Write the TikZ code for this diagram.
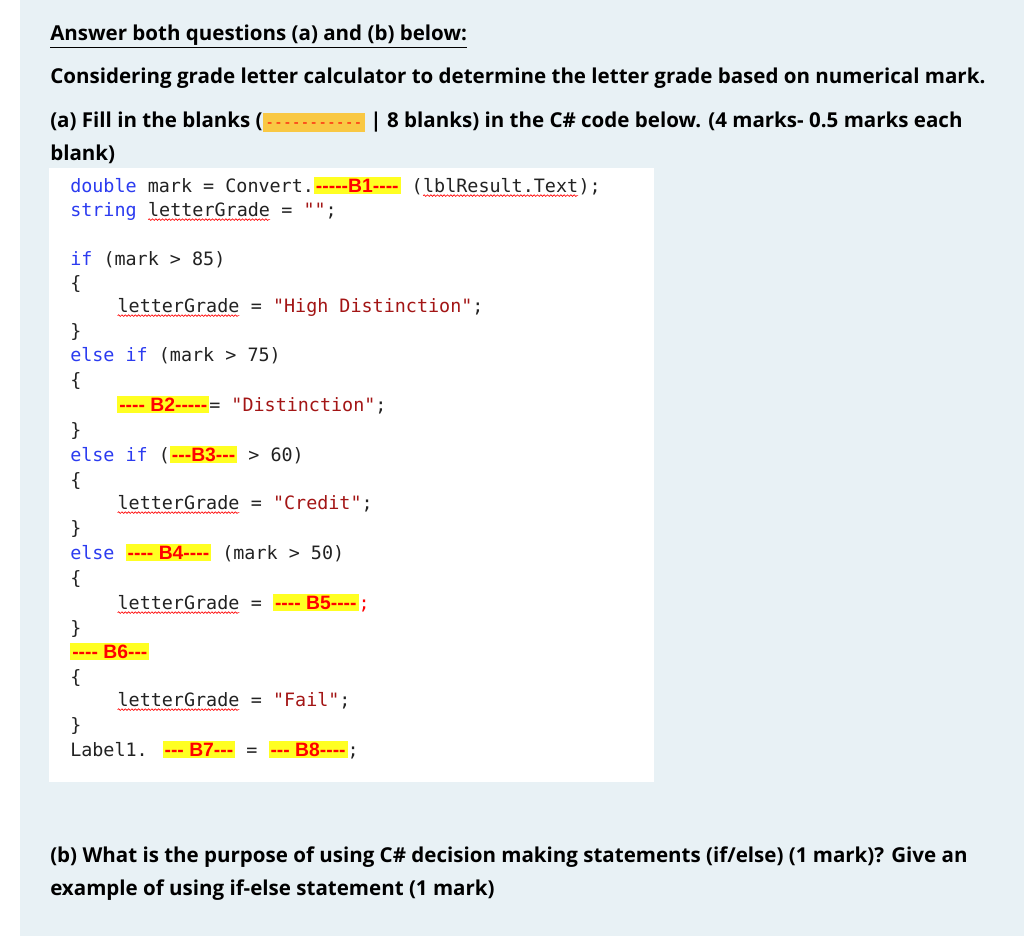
\documentclass[tikz,border=0pt]{standalone}
\usepackage{fontspec}
\setmainfont{Open Sans}
\newfontfamily\codef{DejaVu Sans Mono}
\newfontfamily\arialf{Liberation Sans}
\usetikzlibrary{decorations.pathmorphing}
\definecolor{bg}{HTML}{E8F1F5}
\definecolor{kw}{HTML}{2B3BF0}
\definecolor{str}{HTML}{A31515}
\definecolor{txt}{HTML}{222222}
\definecolor{hl}{HTML}{FFFF22}
\definecolor{org}{HTML}{F9C843}
\newcommand{\bl}[1]{{\setlength{\fboxsep}{1.5pt}\colorbox{hl}{\arialf\bfseries\fontsize{14.5}{16}\selectfont\color{red}#1}}}
\newcommand{\kw}[1]{{\color{kw}#1}}
\newcommand{\st}[1]{{\color{str}#1}}
\newcommand{\sq}[1]{\tikz[baseline=(t.base)]{\node[inner sep=0pt,outer sep=0pt](t){#1};\draw[red,line width=0.5pt,decorate,decoration={snake,amplitude=0.6pt,segment length=2.5pt}]([yshift=-2.5pt]t.south west)--([yshift=-2.5pt]t.south east);}}
\begin{document}
\begin{tikzpicture}[x=0.75pt,y=-0.75pt,
  head/.style={anchor=base west,inner sep=0pt,font=\fontsize{15.4}{18}\selectfont\bfseries,text=black},
  code/.style={anchor=base west,inner sep=0pt,font=\codef\fontsize{13.8}{16}\selectfont,text=txt}]
\useasboundingbox (0,0) rectangle (1024,936);
\fill[white] (0,0) rectangle (1024,936);
\fill[bg] (20,0) rectangle (1024,936);
\fill[white] (49,168) rectangle (654,782);
\node[head] (h1) at (50,40) {\underline{Answer both questions (a) and (b) below:}};
\node[head] (h2) at (50,83) {Considering grade letter calculator to determine the letter grade based on numerical mark.};
\node[head] (h3) at (50,127) {(a) Fill in the blanks ({\setlength{\fboxsep}{2pt}\colorbox{org}{\codef\mdseries\fontsize{11}{14}\selectfont\color{red}-----------\vphantom{(}}} | 8 blanks) in the C\# code below. (4 marks- 0.5 marks each};
\node[head] (h4) at (50,160) {blank)};
\node[code] (c1) at (70,192) {\kw{double} mark = Convert.\bl{-----B1----} (\sq{lblResult.Text});};
\node[code] (c2) at (70,216) {\kw{string} \sq{letterGrade} = \st{""};};
\node[code] (c3) at (70,265) {\kw{if} (mark > 85)};
\node[code] (c4) at (70,289) {\{};
\node[code] (c5) at (117,312) {\sq{letterGrade} = \st{"High Distinction"};};
\node[code] (c6) at (70,337) {\}};
\node[code] (c7) at (70,361) {\kw{else if} (mark > 75)};
\node[code] (c8) at (70,386) {\{};
\node[code] (c9) at (117,411) {\bl{---- B2-----}= \st{"Distinction"};};
\node[code] (c10) at (70,436) {\}};
\node[code] (c11) at (70,461) {\kw{else if} (\bl{---B3---} > 60)};
\node[code] (c12) at (70,486) {\{};
\node[code] (c13) at (117,509) {\sq{letterGrade} = \st{"Credit"};};
\node[code] (c14) at (70,534) {\}};
\node[code] (c15) at (70,559) {\kw{else} \bl{---- B4----} (mark > 50)};
\node[code] (c16) at (70,584) {\{};
\node[code] (c17) at (117,609) {\sq{letterGrade} = \bl{---- B5----}{\color{red};}};
\node[code] (c18) at (70,634) {\}};
\node[code] (c19) at (70,658) {\bl{---- B6---}};
\node[code] (c20) at (70,683) {\{};
\node[code] (c21) at (117,706) {\sq{letterGrade} = \st{"Fail"};};
\node[code] (c22) at (70,731) {\}};
\node[code] (c23) at (70,756) {Label1. \bl{--- B7---} = \bl{--- B8----};};
\node[head] (b1) at (50,862) {(b) What is the purpose of using C\# decision making statements (if/else) (1 mark)? Give an};
\node[head] (b2) at (50,895) {example of using if-else statement (1 mark)};
\end{tikzpicture}
\end{document}
